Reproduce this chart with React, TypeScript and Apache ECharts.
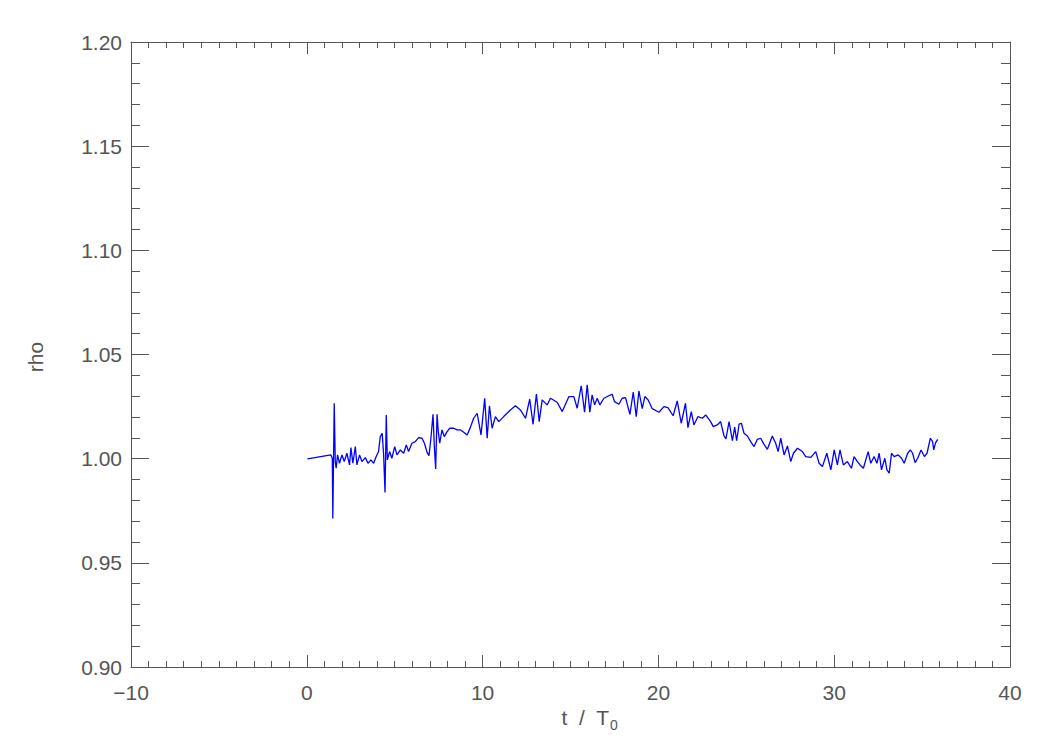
import React, { useEffect, useRef } from "react";
import * as echarts from "echarts";

const tValues: number[] = [
  0.04, 1.37, 1.45, 1.48, 1.56, 1.62, 1.67, 1.75, 1.86, 2.0, 2.13, 2.28, 2.43, 2.51, 2.62, 2.76, 2.85, 3.0, 3.14, 3.33,
  3.48, 3.65, 3.8, 3.95, 4.08, 4.18, 4.29, 4.37, 4.45, 4.52, 4.58, 4.71, 4.84, 5.0, 5.13, 5.32, 5.51, 5.66, 5.79, 5.98,
  6.17, 6.36, 6.55, 6.69, 6.84, 6.95, 7.06, 7.18, 7.25, 7.33, 7.41, 7.48, 7.56, 7.69, 7.82, 7.98, 8.13, 8.36, 8.55, 8.74,
  8.93, 9.12, 9.3, 9.49, 9.69, 9.91, 10.12, 10.26, 10.39, 10.54, 10.73, 10.92, 11.2, 11.39, 11.58, 11.87, 12.15, 12.44, 12.68, 12.87,
  13.06, 13.22, 13.39, 13.67, 13.86, 14.24, 14.53, 14.91, 15.19, 15.38, 15.61, 15.8, 15.95, 16.1, 16.23, 16.37, 16.52, 16.67, 16.9, 17.18,
  17.37, 17.5, 17.75, 17.94, 18.13, 18.38, 18.57, 18.74, 18.89, 19.08, 19.23, 19.42, 19.65, 20.03, 20.31, 20.54, 20.84, 21.07, 21.3, 21.54,
  21.68, 21.87, 22.02, 22.25, 22.5, 22.69, 22.97, 23.12, 23.35, 23.54, 23.73, 23.84, 24.02, 24.21, 24.34, 24.45, 24.59, 24.72, 24.87, 25.06,
  25.25, 25.44, 25.63, 25.82, 26.0, 26.2, 26.48, 26.67, 26.81, 26.96, 27.15, 27.34, 27.53, 27.68, 27.91, 28.19, 28.38, 28.67, 28.95, 29.14,
  29.33, 29.58, 29.81, 30.0, 30.18, 30.33, 30.52, 30.75, 30.98, 31.13, 31.32, 31.47, 31.66, 31.93, 32.08, 32.27, 32.43, 32.56, 32.69, 32.88,
  33.0, 33.13, 33.26, 33.41, 33.64, 33.83, 33.98, 34.18, 34.33, 34.46, 34.6, 34.75, 34.94, 35.13, 35.28, 35.47, 35.6, 35.66, 35.77, 35.89,
];

const rhoValues: number[] = [
  0.9999, 1.0018, 1.0002, 0.9713, 1.0266, 0.9986, 0.9954, 1.0018, 0.9978, 1.0018, 0.9986, 1.0026, 0.997, 1.0053, 0.9978, 1.0058, 0.997, 1.0018, 0.9986, 1.0005,
  0.9978, 0.9994, 0.9978, 1.001, 1.0034, 1.0106, 1.0122, 1.0018, 0.9838, 1.021, 0.9994, 1.0034, 1.0002, 1.0058, 1.0018, 1.0042, 1.0026, 1.0066, 1.0034, 1.0074,
  1.0082, 1.0101, 1.0098, 1.0074, 1.003, 1.0014, 1.0098, 1.0213, 1.0066, 0.9951, 1.0213, 1.013, 1.0074, 1.0138, 1.0106, 1.013, 1.0146, 1.0146, 1.0138, 1.0138,
  1.0127, 1.0114, 1.0149, 1.0194, 1.0218, 1.0114, 1.029, 1.0098, 1.0254, 1.0146, 1.0202, 1.0178, 1.0202, 1.0218, 1.0234, 1.0254, 1.0234, 1.0194, 1.0286, 1.0165,
  1.031, 1.0178, 1.0282, 1.0258, 1.029, 1.0271, 1.0226, 1.0298, 1.0298, 1.0242, 1.035, 1.0223, 1.0354, 1.0223, 1.0306, 1.0258, 1.029, 1.0258, 1.029, 1.0302,
  1.0309, 1.0274, 1.0261, 1.029, 1.0293, 1.0213, 1.032, 1.0202, 1.0325, 1.024, 1.0298, 1.0282, 1.024, 1.0223, 1.025, 1.0245, 1.0206, 1.0277, 1.017, 1.0266,
  1.0149, 1.0226, 1.0162, 1.0202, 1.0194, 1.021, 1.0178, 1.0154, 1.0162, 1.0178, 1.011, 1.0095, 1.0178, 1.0086, 1.0151, 1.0086, 1.0166, 1.017, 1.0122, 1.0109,
  1.0082, 1.0058, 1.0093, 1.0098, 1.007, 1.0045, 1.0109, 1.0074, 1.0034, 1.0098, 1.0018, 1.0061, 0.9986, 1.0026, 1.005, 1.0034, 1.001, 1.0006, 1.0034, 0.9978,
  0.9962, 1.0026, 0.9946, 1.0042, 0.997, 1.0042, 0.997, 0.9986, 0.9954, 1.001, 0.9986, 0.997, 0.9954, 1.0034, 0.9978, 1.001, 0.9978, 1.0026, 0.9946, 1.0002,
  0.9946, 0.993, 1.0026, 1.001, 1.0018, 1.0002, 0.9978, 1.0026, 1.0042, 1.0026, 0.9981, 1.0002, 1.0042, 1.001, 1.0026, 1.0098, 1.0082, 1.0042, 1.0077, 1.0093,
];

const xTickMin = -10;
const xTickMax = 40;
const xTickStep = 10;
const yTickMin = 0.9;
const yTickMax = 1.2;
const yTickStep = 0.05;
const yAxisName = "rho";
const xAxisNameMain = "t  /  T";
const xAxisNameSub = "0";

const AXIS_COLOR = "#555";
const TEXT_COLOR = "#555";
const FONT = "'Liberation Sans', Arial, sans-serif";

export default function App() {
  const ref = useRef<HTMLDivElement>(null);

  useEffect(() => {
    if (!ref.current) return;
    const chart = echarts.init(ref.current, undefined, { renderer: "svg" });
    const data = tValues.map((t, i) => [t, rhoValues[i]]);

    const xBase = (primary: boolean) => ({
      type: "value",
      min: xTickMin,
      max: xTickMax,
      interval: xTickStep,
      position: primary ? "bottom" : "top",
      axisLine: { show: true, onZero: false, lineStyle: { color: AXIS_COLOR, width: 1 } },
      axisTick: { show: true, inside: true, length: 12, lineStyle: { color: AXIS_COLOR } },
      minorTick: { show: true, splitNumber: 10, length: 6, lineStyle: { color: AXIS_COLOR } },
      splitLine: { show: false },
      minorSplitLine: { show: false },
      axisLabel: {
        show: primary,
        margin: 15,
        fontSize: 21,
        fontFamily: FONT,
        color: TEXT_COLOR,
        formatter: (v: number) => String(v).replace("-", "\u2212"),
      },
    });

    const yBase = (primary: boolean) => ({
      type: "value",
      min: yTickMin,
      max: yTickMax,
      interval: yTickStep,
      position: primary ? "left" : "right",
      axisLine: { show: true, onZero: false, lineStyle: { color: AXIS_COLOR, width: 1 } },
      axisTick: { show: true, inside: true, length: 18, lineStyle: { color: AXIS_COLOR } },
      minorTick: { show: true, splitNumber: 5, length: 9, lineStyle: { color: AXIS_COLOR } },
      splitLine: { show: false },
      minorSplitLine: { show: false },
      axisLabel: {
        show: primary,
        margin: 9,
        fontSize: 21,
        fontFamily: FONT,
        color: TEXT_COLOR,
        formatter: (v: number) => v.toFixed(2),
      },
    });

    chart.setOption({
      animation: false,
      backgroundColor: "#fff",
      grid: { left: 131, right: 40, top: 42, bottom: 83, containLabel: false },
      xAxis: [xBase(true), xBase(false)],
      yAxis: [yBase(true), yBase(false)],
      graphic: [
        {
          type: "text",
          x: 35,
          y: 357,
          rotation: Math.PI / 2,
          style: {
            text: yAxisName,
            fontSize: 21,
            fontFamily: FONT,
            fill: TEXT_COLOR,
            textAlign: "center",
            textVerticalAlign: "middle",
          },
        },
        {
          type: "text",
          x: 609,
          y: 717,
          style: {
            text: xAxisNameMain,
            fontSize: 21,
            fontFamily: FONT,
            fill: TEXT_COLOR,
            textAlign: "right",
            textVerticalAlign: "middle",
          },
        },
        {
          type: "text",
          x: 610,
          y: 725,
          style: {
            text: xAxisNameSub,
            fontSize: 14,
            fontFamily: FONT,
            fill: TEXT_COLOR,
            textAlign: "left",
            textVerticalAlign: "middle",
          },
        },
      ],
      series: [
        {
          type: "line",
          xAxisIndex: 0,
          yAxisIndex: 0,
          data,
          showSymbol: false,
          symbol: "none",
          lineStyle: { color: "#0000ff", width: 1.3 },
        },
      ],
    });

    return () => chart.dispose();
  }, []);

  return (
    <div
      ref={ref}
      style={{ position: "fixed", left: 0, top: 0, width: 1050, height: 750, background: "#fff" }}
    />
  );
}
